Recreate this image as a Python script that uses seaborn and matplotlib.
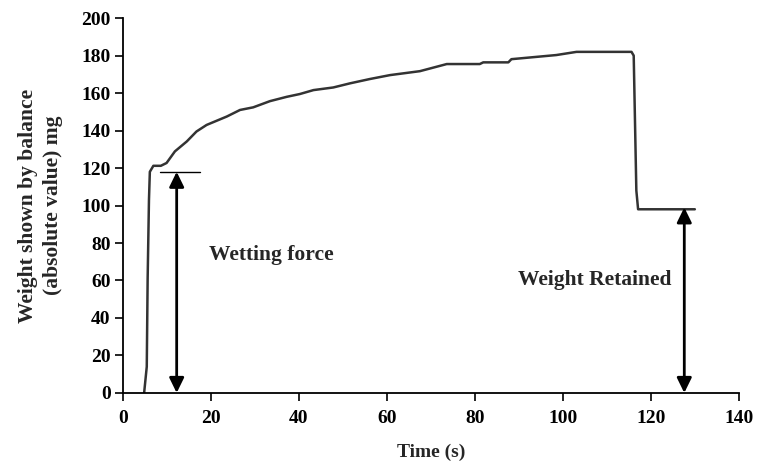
import matplotlib
matplotlib.use("Agg")
import matplotlib.pyplot as plt
import seaborn as sns
import pandas as pd

time_s = [4.8, 5.4, 5.6, 5.9, 6.1, 6.9, 8.6, 9.9, 11.8, 14.5, 16.7, 19.0, 23.6, 26.6,
          29.6, 33.4, 37.2, 40.2, 43.3, 47.8, 51.6, 56.1, 60.7, 67.5, 73.6, 81.1, 81.9,
          87.6, 88.3, 98.5, 103.1, 115.6, 116.1, 116.7, 117.1, 130.0]
weight_mg = [0, 14, 61, 103, 118, 121.2, 121.2, 122.7, 128.9, 134.2, 139.5, 143.0, 147.5,
             151.0, 152.4, 155.7, 158.0, 159.5, 161.6, 163.0, 165.2, 167.5, 169.6, 171.7,
             175.5, 175.5, 176.4, 176.4, 178.1, 180.3, 182.0, 182.0, 180.0, 108.0, 98.0, 98.0]

x_ticks = [0, 20, 40, 60, 80, 100, 120, 140]
y_ticks = [0, 20, 40, 60, 80, 100, 120, 140, 160, 180, 200]

wetting_x, wetting_top = 12.2, 118
retained_x, retained_top = 127.6, 99

sns.set_style("ticks")
plt.rcParams['font.family'] = ['Liberation Serif', 'DejaVu Serif']
plt.rcParams['font.weight'] = 'bold'

fig = plt.figure(figsize=(7.57, 4.65), dpi=100)
ax = fig.add_axes([0.1625, 0.155, 0.8135, 0.806])

df = pd.DataFrame({"Time": time_s, "Weight": weight_mg})
sns.lineplot(data=df, x="Time", y="Weight", ax=ax, sort=False, estimator=None,
             color="#333333", linewidth=1.8)

ax.set_xlim(0, 140)
ax.set_ylim(0, 200)
ax.set_xticks(x_ticks)
ax.set_yticks(y_ticks)
ax.tick_params(axis='both', direction='out', length=6, width=1.2, labelsize=14, colors='black')
ax.tick_params(axis='x', pad=6)
ax.tick_params(axis='y', pad=3)
for lab in ax.get_xticklabels() + ax.get_yticklabels():
    lab.set_fontweight('bold')
for s in ['top', 'right']:
    ax.spines[s].set_visible(False)
for s in ['left', 'bottom']:
    ax.spines[s].set_linewidth(1.3)
    ax.spines[s].set_color('black')

ax.set_xlabel("Time (s)", fontsize=14, fontweight='bold', labelpad=12)
ax.set_ylabel("Weight shown by balance\n(absolute value) mg", fontsize=15.5,
              fontweight='bold', labelpad=13, linespacing=1.35)

arrow = dict(arrowstyle='<|-|>,head_length=0.45,head_width=0.22', color='black', lw=2,
             shrinkA=0, shrinkB=0, mutation_scale=20)
ax.annotate("", xy=(wetting_x, wetting_top), xytext=(wetting_x, 0), arrowprops=arrow)
ax.annotate("", xy=(retained_x, retained_top), xytext=(retained_x, 0), arrowprops=arrow)
ax.plot([8.4, 17.4], [wetting_top, wetting_top], color='black', lw=1)

ax.text(19.6, 73.5, "Wetting force", fontsize=15.5, fontweight='bold', va='center', ha='left')
ax.text(124.7, 60, "Weight Retained", fontsize=15.5, fontweight='bold', va='center', ha='right')

fig.savefig("out.png", dpi=100)
